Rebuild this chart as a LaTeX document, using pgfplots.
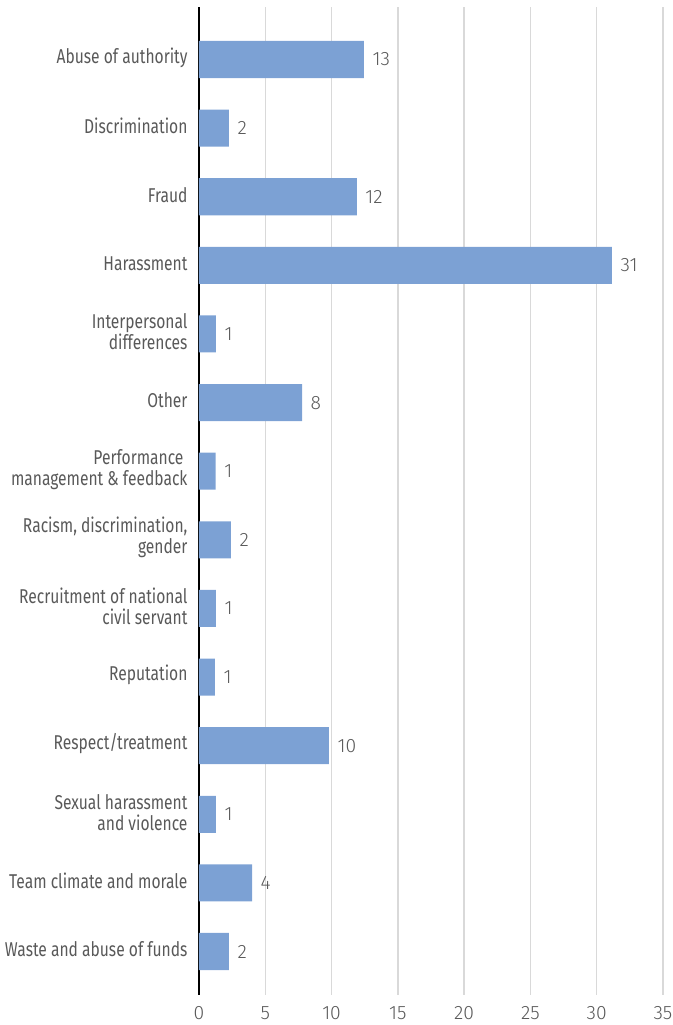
\documentclass[border=0pt]{standalone}
\usepackage{fontspec}
\setmainfont{Fira Sans}
\newfontfamily\condfont[FakeStretch=0.78]{Fira Sans}
\newfontfamily\numfont{Fira Sans Light}
\usepackage{pgfplots}
\usepackage{pgfplotstable}
\pgfplotsset{compat=1.18}
\definecolor{barblue}{RGB}{124,161,212}
\definecolor{txtgray}{RGB}{89,89,89}
\definecolor{gridgray}{RGB}{217,217,217}

% bar length, label = printed value
\pgfplotstableread{
idx len lab
0 12.44 13
1 2.26 2
2 11.90 12
3 31.15 31
4 1.28 1
5 7.77 8
6 1.26 1
7 2.41 2
8 1.28 1
9 1.20 1
10 9.80 10
11 1.28 1
12 4.00 4
13 2.26 2
}\issues

\begin{document}
\begin{tikzpicture}
\useasboundingbox (-149.25pt,-22.5pt) rectangle (355.5pt,746.25pt);
\begin{axis}[
    at={(0,0)}, anchor=south west,
    scale only axis,
    width=348pt, height=741pt,
    xmin=0, xmax=35,
    ymin=-0.765, ymax=13.634,
    y dir=reverse,
    xtick={0,5,...,35},
    ytick={0,...,13},
    yticklabels={{Abuse of authority},{Discrimination},{Fraud},{Harassment},
      {Interpersonal\\differences},{Other},{Performance\hspace*{3pt}\\management \& feedback},
      {Racism, discrimination,\\gender},{Recruitment of national\\civil servant},
      {Reputation},{Respect/treatment},{Sexual harassment\\and violence},
      {Team climate and morale},{Waste and abuse of funds}},
    yticklabel style={align=right, font=\condfont\fontsize{15}{15.75}\selectfont,
      text=txtgray, xshift=-3pt, yshift=1.5pt},
    xticklabel style={font=\numfont\fontsize{14.5}{16}\selectfont, text=txtgray, yshift=-3pt},
    /pgf/number format/assume math mode=true,
    xmajorgrids,
    grid style={draw=gridgray, line width=1pt},
    axis x line=bottom,
    axis y line=left,
    x axis line style={draw=none},
    y axis line style={-, black, line width=1.2pt},
    tick style={draw=none},
    every node near coord/.append style={font=\numfont\fontsize{14.5}{16}\selectfont,
      text=txtgray, anchor=west, xshift=3pt},
]
\addplot[xbar, fill=barblue, draw=none, bar width=0.54,
    nodes near coords, point meta=explicit symbolic]
    table[x=len, y=idx, meta=lab] {\issues};
\end{axis}
\end{tikzpicture}
\end{document}
